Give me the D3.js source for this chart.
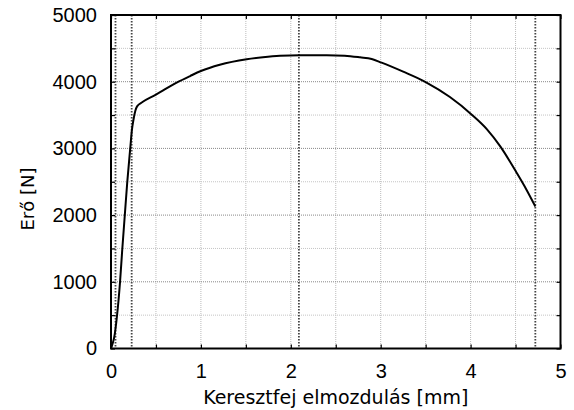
<!DOCTYPE html>
<html>
<head>
<meta charset="utf-8">
<script src="https://cdn.jsdelivr.net/npm/d3@7"></script>
<style>
  body { margin: 0; background: #fff; }
</style>
</head>
<body>
<div id="chart"></div>
<script>
// data
const displacement = [0, 0.015, 0.036, 0.066, 0.10, 0.125, 0.153, 0.18, 0.214, 0.233, 0.25, 0.27, 0.29, 0.35, 0.49, 0.58, 0.73, 0.88, 1.0, 1.21, 1.51, 1.69, 1.88, 2.1, 2.4, 2.6, 2.77, 2.9, 3.01, 3.25, 3.5, 3.77, 4.01, 4.18, 4.33, 4.51, 4.62, 4.72]
const force = [0, 60, 170, 480, 990, 1480, 1990, 2480, 3000, 3280, 3430, 3560, 3630, 3695, 3800, 3870, 3985, 4085, 4160, 4255, 4338, 4368, 4390, 4398, 4398, 4390, 4365, 4340, 4285, 4150, 3995, 3770, 3510, 3290, 3030, 2640, 2385, 2130]
const markerLines = [0.05, 0.23, 2.09, 4.72]
const xTicks = [0, 1, 2, 3, 4, 5]
const yTicks = [0, 1000, 2000, 3000, 4000, 5000]
const xMinor = d3.range(0, 5.01, 0.5)
const yMinor = d3.range(0, 5001, 500)

const width = 574,
  height = 410
const margin = {top: 15, right: 13.5, bottom: 61.5, left: 111}
const innerW = width - margin.left - margin.right
const innerH = height - margin.top - margin.bottom

const xScale = d3.scaleLinear().domain([0, 5]).range([0, innerW])
const yScale = d3.scaleLinear().domain([0, 5000]).range([innerH, 0])

const svg = d3.select('#chart')
  .append('svg')
  .attr('width', width)
  .attr('height', height)

const g = svg.append('g')
  .attr('transform', `translate(${margin.left},${margin.top})`)

// grid, every 0.5 mm and 500 N
g.selectAll('.vgrid')
  .data(xMinor)
  .enter()
  .append('line')
  .attr('x1', d => xScale(d))
  .attr('x2', d => xScale(d))
  .attr('y1', 0)
  .attr('y2', innerH)
  .attr('stroke', '#bbb')
  .attr('stroke-width', 1)
  .attr('stroke-dasharray', '1,1')

g.selectAll('.hgrid')
  .data(yMinor)
  .enter()
  .append('line')
  .attr('x1', 0)
  .attr('x2', innerW)
  .attr('y1', d => yScale(d))
  .attr('y2', d => yScale(d))
  .attr('stroke', d => d % 1000 === 0 ? '#888' : '#c4c4c4')
  .attr('stroke-width', 1)
  .attr('stroke-dasharray', '1,1')

// dotted marker lines
g.selectAll('.marker')
  .data(markerLines)
  .enter()
  .append('line')
  .attr('x1', d => xScale(d))
  .attr('x2', d => xScale(d))
  .attr('y1', 0)
  .attr('y2', innerH)
  .attr('stroke', '#444')
  .attr('stroke-width', 1.8)
  .attr('stroke-dasharray', '1.5,1.5')

// axes with inward ticks
const tickFont = '"Liberation Sans", Arial, sans-serif'

const xAxis = g.append('g')
  .attr('transform', `translate(0,${innerH})`)
  .call(d3.axisBottom(xScale).tickValues(xMinor).tickSize(-4)
    .tickFormat(d => xTicks.includes(d) ? d : ''))
const yAxis = g.append('g')
  .call(d3.axisLeft(yScale).tickValues(yMinor).tickSize(-4).tickPadding(14)
    .tickFormat(d => yTicks.includes(d) ? d : ''))
const xTop = g.append('g')
  .call(d3.axisTop(xScale).tickValues(xMinor).tickSize(-4).tickFormat(''))
const yRight = g.append('g')
  .attr('transform', `translate(${innerW},0)`)
  .call(d3.axisRight(yScale).tickValues(yMinor).tickSize(-4).tickFormat(''))

;[xAxis, yAxis, xTop, yRight].forEach(a => {
  a.select('.domain').remove()
  a.selectAll('.tick line').attr('stroke', '#000').attr('stroke-width', 1.2)
  a.selectAll('text')
    .attr('font-family', tickFont)
    .attr('font-size', 20)
    .attr('fill', '#000')
})
xAxis.selectAll('text').attr('y', 29).attr('dy', 0)

// curve
const points = displacement.map((d, i) => [d, force[i]])
g.append('path')
  .datum(points)
  .attr('fill', 'none')
  .attr('stroke', '#000')
  .attr('stroke-width', 2)
  .attr('stroke-linejoin', 'round')
  .attr('d', d3.line()
    .x(d => xScale(d[0]))
    .y(d => yScale(d[1]))
    .curve(d3.curveMonotoneX))

// frame
g.append('rect')
  .attr('width', innerW)
  .attr('height', innerH)
  .attr('fill', 'none')
  .attr('stroke', '#000')
  .attr('stroke-width', 2)

// axis titles
svg.append('text')
  .attr('x', margin.left + innerW / 2)
  .attr('y', 404)
  .attr('text-anchor', 'middle')
  .attr('font-family', '"DejaVu Sans", Verdana, sans-serif')
  .attr('font-size', 19)
  .text('Keresztfej elmozdulás [mm]')

svg.append('text')
  .attr('transform', 'translate(34,199) rotate(-90)')
  .attr('text-anchor', 'middle')
  .attr('font-family', '"DejaVu Sans", Verdana, sans-serif')
  .attr('font-size', 18)
  .text('Erő [N]')
</script>
</body>
</html>
